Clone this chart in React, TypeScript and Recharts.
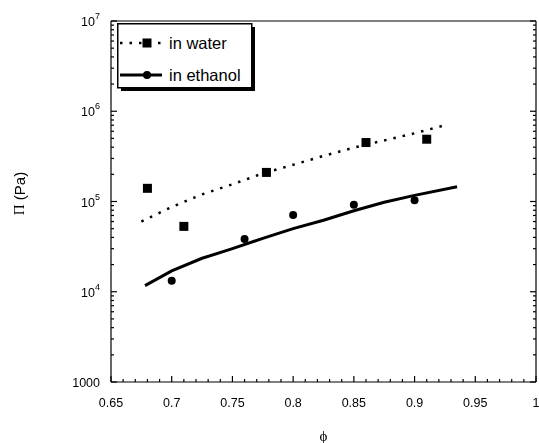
import React from 'react';
import { ScatterChart, Scatter, XAxis, YAxis, Legend, Label } from 'recharts';

// ---- data ----
const waterX = [0.68, 0.71, 0.778, 0.86, 0.91];
const waterY = [1.4e5, 5.3e4, 2.1e5, 4.5e5, 4.9e5];
const ethanolX = [0.7, 0.76, 0.8, 0.85, 0.9];
const ethanolY = [1.32e4, 3.85e4, 7.1e4, 9.2e4, 1.03e5];

const waterFitX = [0.675, 0.7, 0.725, 0.75, 0.775, 0.8, 0.825, 0.85, 0.875, 0.9, 0.925];
const waterFitY = [6.0e4, 8.7e4, 1.2e5, 1.55e5, 2.05e5, 2.55e5, 3.2e5, 3.95e5, 4.75e5, 5.7e5, 7.0e5];
const ethanolFitX = [0.678, 0.7, 0.725, 0.75, 0.775, 0.8, 0.825, 0.85, 0.875, 0.9, 0.935];
const ethanolFitY = [1.17e4, 1.7e4, 2.35e4, 3.0e4, 3.9e4, 5.0e4, 6.2e4, 7.9e4, 9.8e4, 1.17e5, 1.46e5];

const xMajorTicks = [0.65, 0.7, 0.75, 0.8, 0.85, 0.9, 0.95, 1];
const yMajorTicks = [1000, 1e4, 1e5, 1e6, 1e7];
const seriesNames = ['in water', 'in ethanol'];

// ---- derived ----
const zip = (xs: number[], ys: number[]) => xs.map((x, i) => ({ x, y: ys[i] }));
const waterPts = zip(waterX, waterY);
const ethanolPts = zip(ethanolX, ethanolY);
const waterFit = zip(waterFitX, waterFitY);
const ethanolFit = zip(ethanolFitX, ethanolFitY);

const xTicks: number[] = [];
for (let i = 0; i < xMajorTicks.length - 1; i++) {
  for (let k = 0; k < 5; k++) xTicks.push(Math.round((xMajorTicks[i] + k * 0.01) * 100) / 100);
}
xTicks.push(xMajorTicks[xMajorTicks.length - 1]);

const yTicks: number[] = [];
for (let i = 0; i < yMajorTicks.length - 1; i++) {
  for (let m = 1; m <= 9; m++) yTicks.push(yMajorTicks[i] * m);
}
yTicks.push(yMajorTicks[yMajorTicks.length - 1]);

const FONT = '"Liberation Sans", Arial, Helvetica, sans-serif';
const SERIF = '"Liberation Serif", "Times New Roman", serif';
const isXMajor = (v: number) => Math.abs(v * 20 - Math.round(v * 20)) < 1e-6;
const isYMajor = (v: number) => Math.abs(Math.log10(v) - Math.round(Math.log10(v))) < 1e-6;
const TL = { stroke: '#000', strokeWidth: 1.2 };
const TK = { stroke: '#000', strokeWidth: 1.2 };

const XTickBottom = (props: any) => {
  const { x, y, payload } = props;
  const v = payload.value;
  const major = isXMajor(v);
  return (
    <g>
      <line x1={x} x2={x} y1={y} y2={y - (major ? 6 : 3)} {...TK} />
      {major && (
        <text x={x} y={y + 25} textAnchor="middle" fontFamily={FONT} fontSize={12.5} fill="#000">
          {String(v)}
        </text>
      )}
    </g>
  );
};
const XTickTop = (props: any) => {
  const { x, y, payload } = props;
  const major = isXMajor(payload.value);
  return <line x1={x} x2={x} y1={y} y2={y + (major ? 6 : 3)} {...TK} />;
};
const YTickLeft = (props: any) => {
  const { x, y, payload } = props;
  const v = payload.value;
  const major = isYMajor(v);
  const exp = Math.round(Math.log10(v));
  return (
    <g>
      <line x1={x} x2={x + (major ? 6 : 3)} y1={y} y2={y} {...TK} />
      {major &&
        (v === 1000 ? (
          <text x={x - 11} y={y + 5} textAnchor="end" fontFamily={FONT} fontSize={12.5} fill="#000">
            1000
          </text>
        ) : (
          <text x={x - 11} y={y + 5} textAnchor="end" fontFamily={FONT} fontSize={12.5} fill="#000">
            10
            <tspan dy={-7} fontSize={9}>
              {String(exp)}
            </tspan>
          </text>
        ))}
    </g>
  );
};
const YTickRight = (props: any) => {
  const { x, y, payload } = props;
  const major = isYMajor(payload.value);
  return <line x1={x} x2={x - (major ? 6 : 3)} y1={y} y2={y} {...TK} />;
};

const Square = (p: any) => <rect x={p.cx - 4.5} y={p.cy - 4.5} width={9} height={9} fill="#000" />;
const Dot = (p: any) => <circle cx={p.cx} cy={p.cy} r={4} fill="#000" />;
const NoShape = () => <g />;

const renderLegend = () => (
  <svg width={142} height={72} style={{ display: 'block' }}>
    <rect x={4} y={4} width={134} height={64} fill="#000" />
    <rect x={0.75} y={0.75} width={134} height={64} fill="#fff" stroke="#000" strokeWidth={1.5} />
    <line x1={3} x2={45} y1={20} y2={20} stroke="#000" strokeWidth={2.5} strokeDasharray="2.5 7" />
    <rect x={25.5} y={15.5} width={9} height={9} fill="#000" />
    <text x={52} y={25.5} fontFamily={FONT} fontSize={16.5} fill="#000">
      {seriesNames[0]}
    </text>
    <line x1={3} x2={45} y1={52} y2={52} stroke="#000" strokeWidth={3} />
    <circle cx={30} cy={52} r={4} fill="#000" />
    <text x={52} y={57.5} fontFamily={FONT} fontSize={16.5} fill="#000">
      {seriesNames[1]}
    </text>
  </svg>
);

export default function App() {
  return (
    <div style={{ position: 'fixed', left: 0, top: 0, width: 539, height: 443 }}>
      <ScatterChart width={539} height={443} margin={{ top: 20, right: 2, bottom: 11, left: 0 }}>
        <XAxis
          xAxisId="b"
          dataKey="x"
          type="number"
          domain={[0.65, 1]}
          ticks={xTicks}
          interval={0}
          allowDataOverflow
          height={50}
          tickSize={0}
          tickMargin={0}
          tickLine={false}
          axisLine={TL}
          tick={<XTickBottom />}
        >
          <Label
            content={(p: any) => {
              const vb = p.viewBox;
              return (
                <text x={vb.x + vb.width / 2} y={vb.y + 59} textAnchor="middle" fontFamily={SERIF} fontSize={15} fill="#000">
                  ϕ
                </text>
              );
            }}
          />
        </XAxis>
        <XAxis
          xAxisId="t"
          orientation="top"
          type="number"
          domain={[0.65, 1]}
          ticks={xTicks}
          interval={0}
          allowDataOverflow
          height={1}
          tickSize={0}
          tickMargin={0}
          tickLine={false}
          axisLine={TL}
          tick={<XTickTop />}
        />
        <YAxis
          yAxisId="l"
          dataKey="y"
          type="number"
          scale="log"
          domain={[1000, 1e7]}
          ticks={yTicks}
          interval={0}
          allowDataOverflow
          width={111}
          tickSize={0}
          tickMargin={0}
          tickLine={false}
          axisLine={TL}
          tick={<YTickLeft />}
        >
          <Label
            content={(p: any) => {
              const vb = p.viewBox;
              const cx = vb.x + 19;
              const cy = vb.y + vb.height / 2 - 8;
              return (
                <text x={cx} y={cy} transform={`rotate(-90, ${cx}, ${cy})`} textAnchor="middle" dominantBaseline="central" fontSize={15} fill="#000">
                  <tspan fontFamily={SERIF}>Π</tspan>
                  <tspan fontFamily={FONT}> (Pa)</tspan>
                </text>
              );
            }}
          />
        </YAxis>
        <YAxis
          yAxisId="r"
          orientation="right"
          type="number"
          scale="log"
          domain={[1000, 1e7]}
          ticks={yTicks}
          interval={0}
          allowDataOverflow
          width={1}
          tickSize={0}
          tickMargin={0}
          tickLine={false}
          axisLine={TL}
          tick={<YTickRight />}
        />
        <Scatter
          name="water fit"
          xAxisId="b"
          yAxisId="l"
          data={waterFit}
          fill="#000"
          line={{ stroke: '#000', strokeWidth: 2.5, strokeDasharray: '2.5 7' }}
          lineType="joint"
          shape={NoShape}
          isAnimationActive={false}
          legendType="none"
        />
        <Scatter
          name="ethanol fit"
          xAxisId="b"
          yAxisId="l"
          data={ethanolFit}
          fill="#000"
          line={{ stroke: '#000', strokeWidth: 3 }}
          lineType="joint"
          shape={NoShape}
          isAnimationActive={false}
          legendType="none"
        />
        <Scatter name={seriesNames[0]} xAxisId="b" yAxisId="l" data={waterPts} fill="#000" shape={Square} isAnimationActive={false} />
        <Scatter name={seriesNames[1]} xAxisId="b" yAxisId="l" data={ethanolPts} fill="#000" shape={Dot} isAnimationActive={false} />
        <Legend
          layout="horizontal"
          verticalAlign="middle"
          align="center"
          content={renderLegend}
          wrapperStyle={{ left: 117, top: 23, width: 142, height: 72 }}
        />
      </ScatterChart>
    </div>
  );
}
